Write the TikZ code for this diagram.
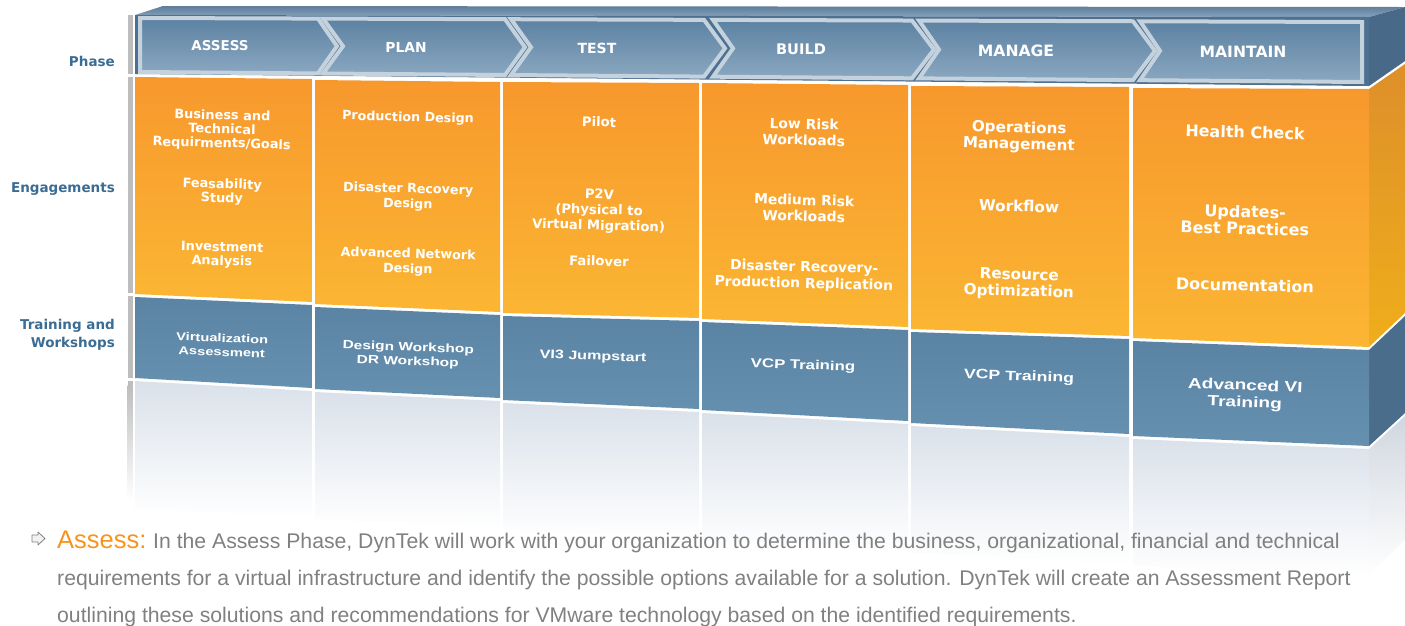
\documentclass[tikz,border=0pt]{standalone}
\usepackage{fontspec}
\setmainfont{Liberation Sans}
\newfontfamily\dvb{DejaVu Sans}
\newfontfamily\libx{Liberation Sans}[FakeStretch=1.3]
\definecolor{labblue}{HTML}{3B6C93}
\definecolor{chevtop}{HTML}{5C82A2}
\definecolor{chevbot}{HTML}{8AA7C0}
\definecolor{chevborder}{HTML}{C4D2DE}
\definecolor{strip}{HTML}{4E7091}
\definecolor{topback}{HTML}{5D7D9A}
\definecolor{topfront}{HTML}{86A2BB}
\definecolor{orTop}{HTML}{F7982D}
\definecolor{orBot}{HTML}{FBB633}
\definecolor{osTop}{HTML}{DE8F2A}
\definecolor{osBot}{HTML}{EFAE1B}
\definecolor{blTop}{HTML}{5A83A4}
\definecolor{blBot}{HTML}{6690B0}
\definecolor{bside}{HTML}{4A6D8C}
\definecolor{pside}{HTML}{486A88}
\definecolor{refl}{HTML}{DAE1EA}
\definecolor{barfill}{HTML}{BDBDBD}
\definecolor{asor}{HTML}{F7941D}
\definecolor{graytext}{HTML}{808080}
\newcommand\ofnt[2]{\dvb\bfseries\fontsize{#1}{#2}\selectfont}
\newcommand\bfnt[2]{\libx\bfseries\fontsize{#1}{#2}\selectfont}
\newcommand\colcells[8]{%
  \shade[top color=orTop,bottom color=orBot] (#1,#3) -- (#2,#4) -- (#2,#6) -- (#1,#5) -- cycle;
  \shade[top color=blTop,bottom color=blBot] (#1,{#5+3}) -- (#2,{#6+3}) -- (#2,#8) -- (#1,#7) -- cycle;
  \shade[top color=refl,bottom color=white] (#1,{#7+3}) -- (#2,{#8+3}) -- (#2,{#8+130}) -- (#1,{#7+130}) -- cycle;
}
\newcommand\midchev[3]{%
  \draw[chev] (#1,{yt(#1)}) -- (#2,{yt(#2)}) -- (#3,{ym(#3)}) -- (#2,{yb(#2)}) -- (#1,{yb(#1)}) -- ({#1+20},{ym(#1+20)}) -- cycle;
}
\tikzset{
  lab/.style={font=\ofnt{13.5}{18}, text=labblue, align=right, anchor=east, inner sep=0},
  ph/.style={text=white, inner sep=0},
  ot/.style={text=white, align=center, rotate=-1.5, inner sep=0},
  bt/.style={text=white, align=center, rotate=-2, inner sep=0},
  chev/.style={draw=chevborder, line width=4pt, line join=miter, top color=chevtop, bottom color=chevbot},
}
\begin{document}
\begin{tikzpicture}[x=1pt,y=-1pt,
  declare function={yt(\x)=18+4*(\x-140)/1223; yb(\x)=72+10*(\x-140)/1223; ym(\x)=(yt(\x)+yb(\x))/2;}]
\useasboundingbox (0,0) rectangle (1405,625);

% left gray bar
\fill[barfill] (127.5,15) rectangle (132.5,385);
\shade[top color=barfill,bottom color=white] (127.5,385) rectangle (132.5,500);
\fill[white] (127.5,74) rectangle (132.5,76.5);
\fill[white] (127.5,293) rectangle (132.5,295.5);
\fill[white] (127.5,378) rectangle (132.5,380.5);

% top face
\shade[top color=topback,bottom color=topfront] (135,15) -- (163,6) -- (1405,7) -- (1369,17) -- cycle;
% phase strip
\fill[strip] (135,15) -- (1369,17) -- (1369,86) -- (135,74) -- cycle;
% side faces
\fill[pside] (1369,17) -- (1405,7) -- (1405,61) -- (1369,86) -- cycle;
\shade[top color=osTop,bottom color=osBot] (1369,89) -- (1405,64) -- (1405,313) -- (1369,347) -- cycle;
\fill[bside] (1369,350) -- (1405,316) -- (1405,413) -- (1369,446) -- cycle;
\shade[top color=refl!90!gray,bottom color=white] (1369,449) -- (1405,416) -- (1405,540) -- (1369,575) -- cycle;

% chevrons
\draw[chev] (140,{yt(140)}) -- (318,{yt(318)}) -- (337,{ym(337)}) -- (318,{yb(318)}) -- (140,{yb(140)}) -- cycle;
\midchev{323}{505}{525}
\midchev{511}{704}{725}
\midchev{713}{912}{934}
\midchev{919}{1133}{1155}
\draw[chev] (1140,{yt(1140)}) -- (1362,{yt(1362)}) -- (1362,{yb(1362)}) -- (1140,{yb(1140)}) -- (1160,{ym(1160)}) -- cycle;

% cells
\colcells{135}{312}{77}{79}{294}{302}{378}{388}
\colcells{315}{500}{80}{82}{304}{312}{389}{398}
\colcells{503}{699}{82}{83}{313}{318}{400}{409}
\colcells{702}{908}{83}{85}{319}{327}{410}{421}
\colcells{911}{1129}{86}{87}{329}{336}{423}{434}
\colcells{1133}{1369}{88}{89}{338}{347}{436}{446}

% left labels
\node[lab] (lphase) at (115,61) {Phase};
\node[lab] (leng) at (115,189) {Engagements};
\node[lab] (ltrain) at (115,335) {Training and\\Workshops};

% phase names
\node[ph, font=\ofnt{13.5}{16}] (pA) at (220,46) {ASSESS};
\node[ph, font=\ofnt{13.8}{16}] (pP) at (406,47) {PLAN};
\node[ph, font=\ofnt{14}{16}] (pT) at (597,48) {TEST};
\node[ph, font=\ofnt{14.6}{16}] (pB) at (801,49) {BUILD};
\node[ph, font=\ofnt{15.6}{16}] (pM) at (1016,51) {MANAGE};
\node[ph, font=\ofnt{15.6}{16}] (pN) at (1243,52) {MAINTAIN};

% engagements
\node[ot, font=\ofnt{12.9}{14}] (e11) at (222,130) {Business and\\Technical\\Requirments/Goals};
\node[ot, font=\ofnt{12.9}{14}] (e12) at (222,192) {Feasability\\Study};
\node[ot, font=\ofnt{12.9}{14}] (e13) at (222,255) {Investment\\Analysis};
\node[ot, font=\ofnt{12.7}{15}] (e21) at (408,118) {Production Design};
\node[ot, font=\ofnt{12.7}{15}] (e22) at (408,197) {Disaster Recovery\\Design};
\node[ot, font=\ofnt{12.7}{15}] (e23) at (408,262) {Advanced Network\\Design};
\node[ot, font=\ofnt{13.2}{15.5}] (e31) at (599,122) {Pilot};
\node[ot, font=\ofnt{13.2}{15.5}] (e32) at (599,211) {P2V\\(Physical to\\Virtual Migration)};
\node[ot, font=\ofnt{13.2}{15.5}] (e33) at (599,261) {Failover};
\node[ot, font=\ofnt{13.9}{16}] (e41) at (804,132) {Low Risk\\Workloads};
\node[ot, font=\ofnt{13.9}{16}] (e42) at (804,208) {Medium Risk\\Workloads};
\node[ot, font=\ofnt{13.9}{16.5}] (e43) at (804,276) {Disaster Recovery-\\Production Replication};
\node[ot, font=\ofnt{15.2}{16.5}] (e51) at (1019,137) {Operations\\Management};
\node[ot, font=\ofnt{15.2}{16.5}] (e52) at (1019,206) {Workflow};
\node[ot, font=\ofnt{15.2}{16.5}] (e53) at (1019,284) {Resource\\Optimization};
\node[ot, font=\ofnt{16}{17}] (e61) at (1245,132) {Health Check};
\node[ot, font=\ofnt{16}{17}] (e62) at (1245,220) {Updates-\\Best Practices};
\node[ot, font=\ofnt{16}{17}] (e63) at (1245,285) {Documentation};

% training
\node[bt, font=\bfnt{11.3}{14}] (t1) at (222,345) {Virtualization\\Assessment};
\node[bt, font=\bfnt{11.9}{14}] (t2) at (408,355) {Design Workshop\\DR Workshop};
\node[bt, font=\bfnt{12.4}{15}] (t3) at (593,357) {VI3 Jumpstart};
\node[bt, font=\bfnt{12.9}{15}] (t4) at (803,366) {VCP Training};
\node[bt, font=\bfnt{13.6}{16}] (t5) at (1019,377) {VCP Training};
\node[bt, font=\bfnt{14.7}{17}] (t6) at (1245,395) {Advanced VI\\Training};

% paragraph
\draw[graytext, fill=gray!10, line width=0.8pt, line join=round]
  (32,535) -- (38,535) -- (38,532) -- (45,538.5) -- (38,545) -- (38,542) -- (32,542) -- cycle;
\node[anchor=base west, inner sep=0, text=asor, font=\fontsize{25.5}{30}\selectfont] (ah) at (57,548) {Assess:};
\node[anchor=base west, inner sep=0, text=graytext, font=\fontsize{21.2}{38}\selectfont] (l1) at (153,548) {In the Assess Phase, DynTek will work with your organization to determine the business, organizational, financial and technical};
\node[anchor=base west, inner sep=0, text=graytext, font=\fontsize{21.2}{38}\selectfont] (l2) at (57,585) {requirements for a virtual infrastructure and identify the possible options available for a solution. DynTek will create an Assessment Report};
\node[anchor=base west, inner sep=0, text=graytext, font=\fontsize{21.2}{38}\selectfont] (l3) at (57,622) {outlining these solutions and recommendations for VMware technology based on the identified requirements.};
\end{tikzpicture}
\end{document}
